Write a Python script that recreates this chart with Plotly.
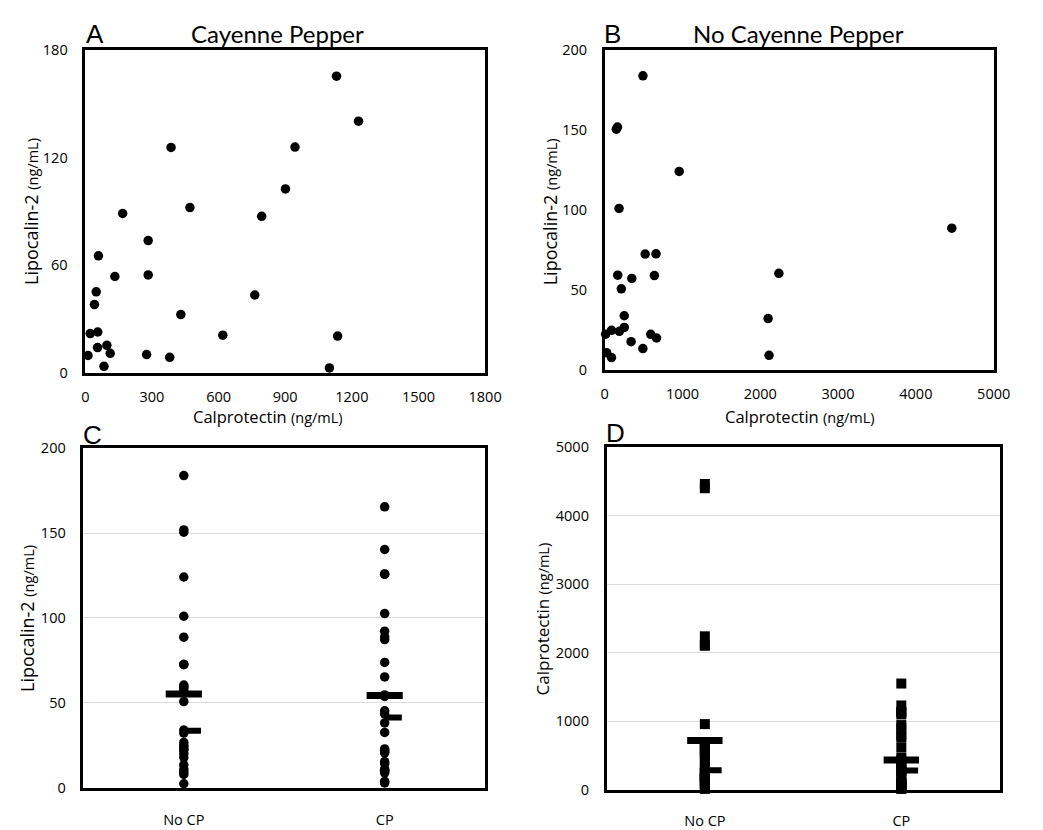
import plotly.graph_objects as go

# ---------------- data ----------------
# Panel A: Cayenne Pepper (CP) group
cp_calpro = [1131, 1230, 386, 944, 901, 471, 168, 794, 283, 59, 133, 283, 49, 41,
             763, 430, 22, 56, 619, 1136, 55, 97, 112, 12, 276, 380, 84, 1099]
cp_lipo = [165.4, 140.3, 125.7, 125.9, 102.6, 92.2, 88.9, 87.3, 73.8, 65.3, 53.8, 54.7, 45.3, 38.2,
           43.5, 32.6, 22.0, 22.9, 21.1, 20.6, 14.2, 15.5, 11.0, 9.8, 10.3, 8.8, 3.8, 2.9]

# Panel B: No Cayenne Pepper group
nocp_calpro = [492, 150, 165, 958, 185, 4462, 521, 660, 2239, 168, 639, 349, 214, 2101,
               252, 252, 189, 88, 13, 340, 491, 592, 667, 25, 88, 2113]
nocp_lipo = [183.8, 150.5, 151.8, 124.1, 101.0, 88.7, 72.5, 72.7, 60.5, 59.3, 59.1, 57.3, 50.8, 32.2,
             34.0, 26.7, 24.3, 24.9, 22.5, 17.8, 13.5, 22.4, 20.1, 10.9, 7.9, 9.3]

# extra values only visible in the group panels
c_nocp_extra_lipo = [2.4]
d_nocp_extra_calpro = [4400]
d_cp_extra_calpro = [1550]

groups = ["No CP", "CP"]
lipo_means = [55.3, 54.4]
lipo_medians = [33.6, 41.4]
calpro_means = [720, 436]
calpro_medians = [285, 280]

# ---------------- figure ----------------
W, H = 1043, 830
fig = go.Figure()

dot = dict(color="black", size=9.5, line=dict(width=0))
sq = dict(color="black", size=10, symbol="square", line=dict(width=0))

fig.add_trace(go.Scatter(x=cp_calpro, y=cp_lipo, mode="markers", marker=dot,
                         xaxis="x", yaxis="y", cliponaxis=False))
fig.add_trace(go.Scatter(x=nocp_calpro, y=nocp_lipo, mode="markers", marker=dot,
                         xaxis="x2", yaxis="y2", cliponaxis=False))

c_vals = [nocp_lipo + c_nocp_extra_lipo, cp_lipo]
d_vals = [nocp_calpro + d_nocp_extra_calpro, cp_calpro + d_cp_extra_calpro]

half = 0.09
for i, g in enumerate(groups):
    fig.add_trace(go.Scatter(x=[i] * len(c_vals[i]), y=c_vals[i], mode="markers", marker=dot,
                             xaxis="x3", yaxis="y3", cliponaxis=False))
    fig.add_trace(go.Scatter(x=[i] * len(d_vals[i]), y=d_vals[i], mode="markers", marker=sq,
                             xaxis="x4", yaxis="y4", cliponaxis=False))
    # mean (long bar) and median (short bar)
    fig.add_trace(go.Scatter(x=[i - half, i + half], y=[lipo_means[i]] * 2, mode="lines",
                             line=dict(color="black", width=7), xaxis="x3", yaxis="y3"))
    fig.add_trace(go.Scatter(x=[i, i + half * 0.95], y=[lipo_medians[i]] * 2, mode="lines",
                             line=dict(color="black", width=6), xaxis="x3", yaxis="y3"))
    fig.add_trace(go.Scatter(x=[i - half, i + half], y=[calpro_means[i]] * 2, mode="lines",
                             line=dict(color="black", width=7), xaxis="x4", yaxis="y4"))
    fig.add_trace(go.Scatter(x=[i, i + half * 0.95], y=[calpro_medians[i]] * 2, mode="lines",
                             line=dict(color="black", width=6), xaxis="x4", yaxis="y4"))

tickfont = dict(family="Open Sans", size=14.5, color="black")
box = dict(showline=True, mirror=True, linecolor="black", linewidth=2.5, ticks="",
           zeroline=False, tickfont=tickfont, fixedrange=True)


def px_x(a, b):
    return [a / W, b / W]


def px_y(top, bottom):
    return [1 - bottom / H, 1 - top / H]


fig.update_layout(
    width=W, height=H, margin=dict(l=0, r=0, t=0, b=0),
    paper_bgcolor="white", plot_bgcolor="white", showlegend=False,
    xaxis=dict(domain=px_x(83, 491), range=[0, 1800], tickvals=[0, 300, 600, 900, 1200, 1500, 1800],
               showgrid=False, anchor="y", ticklabelstandoff=9, **box),
    yaxis=dict(domain=px_y(41, 373), range=[0, 180], tickvals=[0, 60, 120, 180],
               showgrid=False, anchor="x", ticklabelstandoff=12, **box),
    xaxis2=dict(domain=px_x(613, 1010), range=[0, 5000], tickvals=[0, 1000, 2000, 3000, 4000, 5000],
                showgrid=False, anchor="y2", ticklabelstandoff=9, **box),
    yaxis2=dict(domain=px_y(41, 370), range=[0, 200], tickvals=[0, 50, 100, 150, 200],
                showgrid=False, anchor="x2", ticklabelstandoff=12, **box),
    xaxis3=dict(domain=px_x(81, 491), range=[-0.5, 1.5], tickvals=[0, 1], ticktext=groups,
                showgrid=False, anchor="y3", ticklabelstandoff=17, **box),
    yaxis3=dict(domain=px_y(450, 799), range=[0, 200], tickvals=[0, 50, 100, 150, 200],
                showgrid=True, gridcolor="#d9dde3", gridwidth=1, anchor="x3", ticklabelstandoff=12, **box),
    xaxis4=dict(domain=px_x(615, 1016), range=[-0.5, 1.5], tickvals=[0, 1], ticktext=groups,
                showgrid=False, anchor="y4", ticklabelstandoff=16, **box),
    yaxis4=dict(domain=px_y(449, 801), range=[0, 5000], tickvals=[0, 1000, 2000, 3000, 4000, 5000],
                showgrid=True, gridcolor="#d9dde3", gridwidth=1, anchor="x4", ticklabelstandoff=12, **box),
)

ann = []


def add_text(text, x, y, size, family="Open Sans", angle=0):
    ann.append(dict(text=text, x=x / W, y=1 - y / H, xref="paper", yref="paper",
                    showarrow=False, xanchor="center", yanchor="middle", textangle=angle,
                    font=dict(family=family, size=size, color="black")))


def unit_title(name):
    return name + ' <span style="font-size:14.5px">(ng/mL)</span>'


add_text("Cayenne Pepper", 279, 24, 24, family="Lato")
add_text("No Cayenne Pepper", 811, 24, 24, family="Lato")
for letter, x, y in [("A", 93, 25), ("B", 621, 25), ("C", 90, 437), ("D", 624, 435)]:
    add_text(letter, x, y, 26, family="Liberation Sans")

add_text(unit_title("Calprotectin"), 269, 418, 16.5)
add_text(unit_title("Calprotectin"), 812, 418, 16.5)
add_text(unit_title("Lipocalin-2"), 27, 207, 18, angle=-90)
add_text(unit_title("Lipocalin-2"), 557, 207, 18, angle=-90)
add_text(unit_title("Lipocalin-2"), 24, 625, 18, angle=-90)
add_text(unit_title("Calprotectin"), 549, 625, 17, angle=-90)

fig.update_layout(annotations=ann)

fig.write_html("out.html")
